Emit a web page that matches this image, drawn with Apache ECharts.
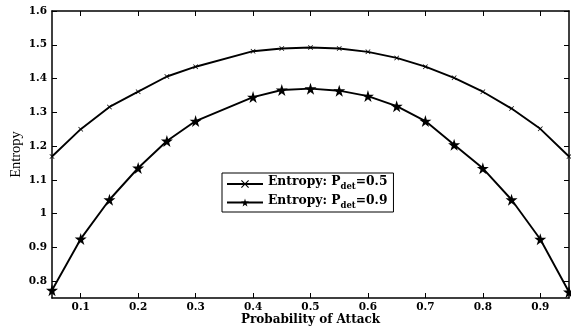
<!DOCTYPE html>
<html><head><meta charset="utf-8">
<script src="https://cdn.jsdelivr.net/npm/echarts@6/dist/echarts.min.js"></script>
<style>html,body{margin:0;padding:0;background:#fff}#c{width:571px;height:331px}</style>
</head><body><div id="c"></div>
<script>
const xValues = [0.05,0.1,0.15,0.2,0.25,0.3,0.4,0.45,0.5,0.55,0.6,0.65,0.7,0.75,0.8,0.85,0.9,0.95];
const entropy05 = [1.169,1.250,1.316,1.361,1.406,1.435,1.481,1.489,1.492,1.489,1.479,1.461,1.435,1.402,1.361,1.311,1.251,1.169];
const entropy09 = [0.773,0.925,1.041,1.135,1.215,1.274,1.345,1.366,1.370,1.364,1.348,1.318,1.274,1.204,1.134,1.041,0.924,0.768];
const xTicks = [0.1,0.2,0.3,0.4,0.5,0.6,0.7,0.8,0.9];
const yTicks = [0.8,0.9,1.0,1.1,1.2,1.3,1.4,1.5,1.6];
const seriesNames = ['Entropy: P_det=0.5','Entropy: P_det=0.9'];

const font = 'DejaVu Serif';
const xSym = 'path://M0,1L1,0L5,4L9,0L10,1L6,5L10,9L9,10L5,6L1,10L0,9L4,5Z';
const starSym = 'path://M50,0L61,35L98,35L68,57L79,91L50,70L21,91L32,57L2,35L39,35Z';

const pairs = (ys) => xValues.map((x,i)=>[x, ys[i]]);
const axisCommon = {
  axisLine:{show:true,lineStyle:{color:'#000',width:1.5}},
  axisTick:{show:true,inside:true,length:5,lineStyle:{color:'#000',width:1}},
  splitLine:{show:false}
};
const chart = echarts.init(document.getElementById('c'));
chart.setOption({
  backgroundColor:'#fff',
  animation:false,
  grid:{left:52,right:2,top:11,bottom:33,containLabel:false,outerBoundsMode:'none'},
  legend:{
    orient:'vertical', left:222, top:173, itemWidth:36, itemHeight:10, itemGap:3,
    padding:[3,6,2,4],
    backgroundColor:'#fff', borderColor:'#000', borderWidth:1,
    data: seriesNames,
    formatter:(n)=>{const p=n.split('_det'); return '{a|'+p[0].replace('_','')+'}{s|det}{a|'+p[1]+'}';},
    textStyle:{rich:{
      a:{fontFamily:font,fontWeight:'bold',fontSize:12.3,color:'#000',padding:[0,0,4,0]},
      s:{fontFamily:font,fontWeight:'bold',fontSize:8.5,color:'#000',padding:[6,0,0,0]}
    }}
  },
  xAxis:[
    Object.assign({type:'value',min:0.05,max:0.95,position:'bottom',
      name:'Probability of Attack',nameLocation:'middle',nameGap:16,nameMoveOverlap:false,
      nameTextStyle:{fontFamily:font,fontWeight:'bold',fontSize:12,color:'#000'},
      axisLabel:{customValues:xTicks,fontFamily:font,fontWeight:'bold',fontSize:10.5,color:'#000',margin:4},
    },axisCommon,{axisTick:Object.assign({},axisCommon.axisTick,{customValues:xTicks})}),
    Object.assign({type:'value',min:0.05,max:0.95,position:'top',axisLabel:{show:false}},
      axisCommon,{axisTick:Object.assign({},axisCommon.axisTick,{customValues:xTicks})})
  ],
  yAxis:[
    Object.assign({type:'value',min:0.75,max:1.6,position:'left',
      name:'Entropy',nameLocation:'middle',nameGap:28,nameMoveOverlap:false,
      nameTextStyle:{fontFamily:'Liberation Serif',fontSize:14.5,color:'#000'},
      axisLabel:{customValues:yTicks,fontFamily:font,fontWeight:'bold',fontSize:10.5,color:'#000',margin:5,
        formatter:(v)=>String(+v.toFixed(1))}
    },axisCommon,{axisTick:Object.assign({},axisCommon.axisTick,{customValues:yTicks})}),
    Object.assign({type:'value',min:0.75,max:1.6,position:'right',axisLabel:{show:false}},
      axisCommon,{axisTick:Object.assign({},axisCommon.axisTick,{customValues:yTicks})})
  ],
  series:[
    {name:seriesNames[0],type:'line',data:pairs(entropy05),symbol:xSym,symbolSize:5,
      lineStyle:{color:'#000',width:1.9},itemStyle:{color:'#000'},clip:false},
    {name:seriesNames[1],type:'line',data:pairs(entropy09),symbol:starSym,symbolSize:12,
      lineStyle:{color:'#000',width:1.9},itemStyle:{color:'#000'},clip:false}
  ]
});
</script></body></html>
